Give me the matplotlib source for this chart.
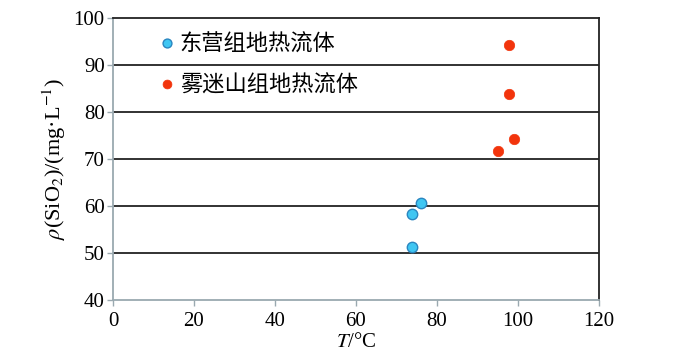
import matplotlib
matplotlib.use("Agg")
import matplotlib.pyplot as plt

plt.rcParams['font.family'] = ['Liberation Serif', 'Noto Sans CJK SC']
plt.rcParams['mathtext.fontset'] = 'stix'

# Data
dy_label = "东营组地热流体"
wm_label = "雾迷山组地热流体"
dy_T = [76.0, 73.8, 73.8]
dy_si = [60.7, 58.3, 51.3]
wm_T = [97.8, 97.8, 95.1, 99.0]
wm_si = [94.3, 83.8, 71.7, 74.3]
xticks = [0, 20, 40, 60, 80, 100, 120]
yticks = [40, 50, 60, 70, 80, 90, 100]

fig = plt.figure(figsize=(6.91, 3.64), dpi=100)
ax = fig.add_axes([113/691, 1-300/364, 486/691, 282/364])

gray = '#9aa9b0'
for y in yticks[1:-1]:
    ax.axhline(y, color='#222222', lw=1.3, zorder=1)

ax.plot(dy_T, dy_si, 'o', ms=7.5, mfc='#3fc6f2', mec='#2a86c0', mew=1.0,
        label=dy_label, zorder=3, linestyle='none')
ax.plot(wm_T, wm_si, 'o', ms=7.5, mfc='#f2340c', mec='#f2340c', mew=0.5,
        label=wm_label, zorder=3, linestyle='none')

ax.set_xlim(0, 120)
ax.set_ylim(40, 100)
ax.set_xticks(xticks)
ax.set_yticks(yticks)
ax.tick_params(axis='both', labelsize=15, color=gray, length=4, width=1.0)
ax.tick_params(axis='x', pad=5)
ax.tick_params(axis='y', pad=2)

ax.spines['left'].set_color(gray)
ax.spines['bottom'].set_color(gray)
ax.spines['top'].set_color('#222222')
ax.spines['right'].set_color('#222222')
for s in ax.spines.values():
    s.set_linewidth(1.3)

ax.set_xlabel(r"$T$/°C", fontsize=15, labelpad=1)
ax.set_ylabel(r"$\rho$(SiO$_2$)/(mg·L$^{-1}$)", fontsize=16, labelpad=4)

leg = ax.legend(loc='upper left', bbox_to_anchor=(0.069, 0.978), frameon=False,
                prop={'family': ['Noto Sans CJK SC'], 'size': 16},
                handletextpad=0.1, labelspacing=0.8, handlelength=1.0,
                markerscale=0.85, borderaxespad=0)

fig.savefig("out.png", dpi=100)
